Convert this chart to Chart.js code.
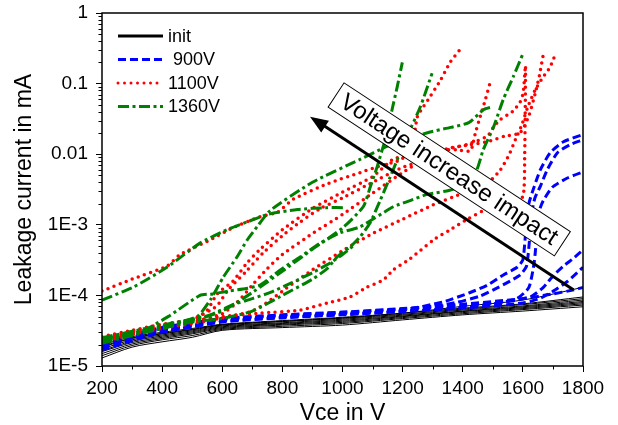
<!DOCTYPE html>
<html>
<head>
<meta charset="utf-8">
<script src="https://cdn.jsdelivr.net/npm/chart.js@4.4.1/dist/chart.umd.min.js"></script>
<style>
  html, body { margin: 0; padding: 0; background: #fff; }
</style>
</head>
<body>
<canvas id="leakChart" width="618" height="425"></canvas>
<script>
// Vce in V  /  leakage current in mA
var vceTicks = [200, 400, 600, 800, 1000, 1200, 1400, 1600, 1800];
var vceTickLabels = ['200', '400', '600', '800', '1000', '1200', '1400', '1600', '1800'];
var vceMinorTicks = [300, 500, 700, 900, 1100, 1300, 1500, 1700];
var leakTicks = [1e-5, 1e-4, 1e-3, 0.01, 0.1, 1];
var leakTickLabels = ['1E-5', '1E-4', '1E-3', '0.01', '0.1', '1'];
var leakMinorTicks = [2e-5, 3e-5, 4e-5, 5e-5, 6e-5, 7e-5, 8e-5, 9e-5,
  2e-4, 3e-4, 4e-4, 5e-4, 6e-4, 7e-4, 8e-4, 9e-4,
  2e-3, 3e-3, 4e-3, 5e-3, 6e-3, 7e-3, 8e-3, 9e-3,
  0.02, 0.03, 0.04, 0.05, 0.06, 0.07, 0.08, 0.09,
  0.2, 0.3, 0.4, 0.5, 0.6, 0.7, 0.8, 0.9];

var legendLabels = ['init', ' 900V', '1100V', '1360V'];

// init: the bundle of untreated devices
var initVce = [200, 300, 400, 500, 600, 800, 1000, 1200, 1400, 1600, 1800];
var initLeak = [
  [1.3e-5, 1.85e-5, 2.2e-5, 2.55e-5, 3.2e-5, 3.5e-5, 3.8e-5, 4.5e-5, 5.3e-5, 6.0e-5, 6.9e-5],
  [1.4e-5, 1.95e-5, 2.35e-5, 2.7e-5, 3.3e-5, 3.65e-5, 4.0e-5, 4.7e-5, 5.5e-5, 6.3e-5, 7.3e-5],
  [1.5e-5, 2.05e-5, 2.45e-5, 2.85e-5, 3.4e-5, 3.8e-5, 4.15e-5, 4.85e-5, 5.7e-5, 6.5e-5, 7.6e-5],
  [1.6e-5, 2.15e-5, 2.55e-5, 2.95e-5, 3.5e-5, 3.9e-5, 4.3e-5, 5.0e-5, 5.9e-5, 6.7e-5, 7.9e-5],
  [1.65e-5, 2.25e-5, 2.65e-5, 3.05e-5, 3.6e-5, 4.0e-5, 4.45e-5, 5.1e-5, 6.0e-5, 6.9e-5, 8.2e-5],
  [1.75e-5, 2.35e-5, 2.75e-5, 3.15e-5, 3.7e-5, 4.1e-5, 4.6e-5, 5.25e-5, 6.2e-5, 7.1e-5, 8.6e-5],
  [1.85e-5, 2.45e-5, 2.85e-5, 3.25e-5, 3.8e-5, 4.25e-5, 4.75e-5, 5.4e-5, 6.4e-5, 7.4e-5, 9.0e-5],
  [2.0e-5, 2.6e-5, 3.0e-5, 3.4e-5, 3.9e-5, 4.4e-5, 4.9e-5, 5.6e-5, 6.6e-5, 7.6e-5, 9.5e-5],
  [1.9e-5, 2.5e-5, 2.9e-5, 3.3e-5, 3.85e-5, 4.3e-5, 4.8e-5, 5.6e-5, 7.0e-5, 8.6e-5, 1.3e-4]
];

// after 900V stress
var blue900 = [
  [[200,1.9e-5],[300,2.6e-5],[400,3.2e-5],[500,3.7e-5],[600,4.4e-5],[800,5.0e-5],[1000,5.5e-5],[1200,6.2e-5],[1335,8.1e-5],[1425,1.1e-4],[1482,1.4e-4],[1535,1.95e-4],[1581,2.5e-4],[1600,3.2e-4],[1610,8.5e-4],[1620,2e-3],[1638,3.5e-3],[1658,6e-3],[1691,0.0105],[1735,0.015],[1800,0.019]],
  [[200,2.0e-5],[300,2.7e-5],[400,3.3e-5],[500,3.8e-5],[600,4.5e-5],[800,5.1e-5],[1000,5.6e-5],[1200,6.3e-5],[1300,7e-5],[1382,8e-5],[1458,9.8e-5],[1515,1.28e-4],[1558,1.6e-4],[1591,1.95e-4],[1612,2.6e-4],[1622,6e-4],[1630,1.5e-3],[1640,2.4e-3],[1658,3.5e-3],[1681,6e-3],[1715,0.0105],[1758,0.0137],[1800,0.016]],
  [[200,1.8e-5],[300,2.5e-5],[400,3.1e-5],[500,3.6e-5],[600,4.3e-5],[800,4.9e-5],[1000,5.4e-5],[1200,6.0e-5],[1400,6.8e-5],[1500,7.6e-5],[1580,9e-5],[1620,1.3e-4],[1638,3e-4],[1648,9e-4],[1655,1.6e-3],[1668,2.2e-3],[1698,3.4e-3],[1748,4.6e-3],[1800,5.6e-3]],
  [[200,2.1e-5],[400,3.4e-5],[600,4.6e-5],[800,5.2e-5],[1000,5.7e-5],[1200,6.4e-5],[1400,7.2e-5],[1550,8.2e-5],[1625,9.5e-5],[1668,1.3e-4],[1701,1.9e-4],[1735,2.6e-4],[1770,3.4e-4],[1800,4.4e-4]],
  [[200,1.7e-5],[400,3.0e-5],[600,4.2e-5],[800,4.8e-5],[1000,5.3e-5],[1200,5.9e-5],[1400,6.6e-5],[1600,7.8e-5],[1660,9.2e-5],[1701,1.15e-4],[1750,1.6e-4],[1800,2.5e-4]],
  [[200,2.2e-5],[400,3.5e-5],[600,4.7e-5],[800,5.3e-5],[1000,5.8e-5],[1200,6.5e-5],[1400,7.5e-5],[1600,9e-5],[1700,1.05e-4],[1770,1.2e-4],[1800,1.3e-4]]
];

// after 1100V stress
var red1100 = [
  [[200,1.15e-4],[300,1.7e-4],[416,2.6e-4],[460,3.8e-4],[550,5.8e-4],[636,9.1e-4],[726,1.3e-3],[783,1.5e-3],[836,2.3e-3],[949,3.8e-3],[1059,5.5e-3],[1115,6.6e-3],[1192,8.3e-3],[1230,0.012],[1249,0.034],[1269,0.047],[1292,0.066],[1325,0.11],[1358,0.2],[1398,0.33]],
  [[200,2.5e-5],[300,3.1e-5],[400,3.7e-5],[500,4.4e-5],[550,6.2e-5],[583,1.05e-4],[636,1.6e-4],[683,2.9e-4],[726,4.5e-4],[800,8.5e-4],[900,1.7e-3],[1000,2.9e-3],[1100,4.8e-3],[1169,8.5e-3],[1250,0.0105],[1320,0.0115],[1380,0.0115],[1425,0.011],[1432,0.013],[1442,0.02],[1458,0.034],[1475,0.059],[1492,0.107]],
  [[200,2.3e-5],[300,2.9e-5],[400,3.5e-5],[500,4.2e-5],[600,5.5e-5],[650,8e-5],[700,1.4e-4],[750,2.4e-4],[800,3.8e-4],[900,7.5e-4],[1000,1.4e-3],[1100,2.8e-3],[1200,5.5e-3],[1280,9e-3],[1350,0.012],[1420,0.0135],[1480,0.015],[1540,0.018],[1590,0.02],[1620,0.035],[1640,0.07],[1655,0.13],[1668,0.26]],
  [[200,2.2e-5],[300,2.8e-5],[400,3.4e-5],[500,4e-5],[600,4.8e-5],[700,6e-5],[750,8e-5],[800,1.15e-4],[900,2.3e-4],[1000,4.3e-4],[1100,7.5e-4],[1200,1.2e-3],[1300,1.9e-3],[1400,2.8e-3],[1480,3.8e-3],[1525,6e-3],[1555,0.01],[1575,0.016],[1595,0.025],[1615,0.045],[1640,0.08],[1665,0.12],[1690,0.17],[1708,0.26]],
  [[200,2.4e-5],[300,3.0e-5],[400,3.6e-5],[500,4.3e-5],[600,5.0e-5],[726,5.6e-5],[859,6.2e-5],[949,7.8e-5],[1025,9.5e-5],[1080,1.3e-4],[1135,1.65e-4],[1169,2.3e-4],[1225,3.3e-4],[1302,6.1e-4],[1358,8.5e-4],[1415,1.2e-3],[1468,1.6e-3],[1502,2.2e-3],[1560,2.4e-3],[1600,2.5e-3],[1606,0.01],[1608,0.05],[1609,0.17]],
  [[200,2.6e-5],[300,3.2e-5],[400,3.9e-5],[500,4.6e-5],[580,7e-5],[620,1.2e-4],[680,2.2e-4],[736,4e-4],[800,7e-4],[860,1.1e-3],[926,1.7e-3],[1000,2.4e-3],[1100,4e-3],[1200,6.5e-3],[1300,9e-3],[1360,0.012],[1420,0.014],[1482,0.018],[1502,0.024],[1525,0.031],[1565,0.04],[1591,0.055],[1601,0.074],[1608,0.17]]
];

// after 1360V stress
var green1360 = [
  [[200,8.6e-5],[303,1.3e-4],[416,2.5e-4],[526,5.5e-4],[616,8.5e-4],[683,1.1e-3],[750,1.4e-3],[850,1.65e-3],[950,1.75e-3],[1010,1.75e-3]],
  [[200,2.2e-5],[300,2.9e-5],[400,3.6e-5],[516,5e-5],[560,8.6e-5],[603,1.8e-4],[649,3.5e-4],[683,6.1e-4],[716,9.4e-4],[760,1.6e-3],[900,4e-3],[1060,8.5e-3],[1150,0.013],[1280,0.02],[1360,0.024],[1420,0.028],[1470,0.043],[1500,0.047]],
  [[200,2.3e-5],[300,2.9e-5],[400,3.7e-5],[500,4.4e-5],[600,6e-5],[700,1.1e-4],[800,2.2e-4],[900,4.5e-4],[1000,9e-4],[1069,1.8e-3],[1092,3.4e-3],[1115,6.6e-3],[1132,0.0115],[1149,0.02],[1165,0.043],[1182,0.09],[1199,0.2]],
  [[200,2.4e-5],[260,2.7e-5],[326,3e-5],[420,5e-5],[526,1e-4],[570,1.05e-4],[620,1.15e-4],[680,1.25e-4],[726,1.4e-4],[793,2.3e-4],[859,3.5e-4],[926,5.5e-4],[992,7.7e-4],[1059,9.4e-4],[1169,1.8e-3],[1225,2.2e-3],[1282,2.7e-3],[1369,3.2e-3],[1442,5.5e-3],[1468,0.0115],[1502,0.024],[1535,0.06],[1568,0.125],[1601,0.27]],
  [[200,2.1e-5],[300,2.7e-5],[400,3.4e-5],[500,4.2e-5],[600,4.7e-5],[700,6e-5],[800,1e-4],[900,1.7e-4],[949,2.4e-4],[982,3.5e-4],[1026,4.9e-4],[1059,6.8e-4],[1092,1.07e-3],[1125,2.2e-3],[1159,4.8e-3],[1182,8.3e-3],[1215,0.018],[1259,0.047],[1298,0.14]],
  [[200,2.5e-5],[300,3.1e-5],[400,3.8e-5],[500,4.6e-5],[560,5.3e-5],[640,7.5e-5],[700,9e-5],[760,1.1e-4],[830,1.5e-4],[900,2.1e-4],[960,2.9e-4],[1000,3.8e-4],[1040,5.2e-4]]
];

// annotation anchors, in data units
var arrowTail = [1768, 1.2e-4];
var arrowTip = [892, 0.034];
var boxCentre = [1355, 6.1e-3];
var boxText = 'Voltage increase impact';

var FONT = 'Liberation Sans';
var groupStyles = [
  { color: '#000000', width: 1, dash: [], cap: 'butt' },
  { color: '#0000ff', width: 3, dash: [8, 4], cap: 'butt' },
  { color: '#ff0000', width: 3.5, dash: [0, 6.5], cap: 'round' },
  { color: '#008000', width: 3, dash: [11, 3.5, 3, 3.5], cap: 'butt' }
];

function makeSet(points, g, tension) {
  var st = groupStyles[g];
  return {
    data: points,
    borderColor: st.color,
    borderWidth: st.width,
    borderDash: st.dash,
    borderCapStyle: st.cap,
    pointRadius: 0,
    tension: tension,
    fill: false,
    order: 4 - g
  };
}

var datasets = [];
initLeak.forEach(function (row) {
  datasets.push(makeSet(row.map(function (v, i) { return [initVce[i], v]; }), 0, 0.3));
});
blue900.forEach(function (c) { datasets.push(makeSet(c, 1, 0.2)); });
red1100.forEach(function (c) { datasets.push(makeSet(c, 2, 0.2)); });
green1360.forEach(function (c) { datasets.push(makeSet(c, 3, 0.2)); });

var framePlugin = {
  id: 'frame',
  afterDraw: function (chart) {
    var ctx = chart.ctx, a = chart.chartArea;
    var xs = chart.scales.x, ys = chart.scales.y;
    ctx.save();
    ctx.strokeStyle = '#000';
    ctx.lineWidth = 1.5;
    ctx.strokeRect(a.left, a.top, a.right - a.left, a.bottom - a.top);
    ctx.lineWidth = 1;
    ctx.beginPath();
    vceMinorTicks.forEach(function (v) {
      var x = Math.round(xs.getPixelForValue(v)) + 0.5;
      ctx.moveTo(x, a.bottom); ctx.lineTo(x, a.bottom + 3.5);
    });
    leakMinorTicks.forEach(function (v) {
      var y = Math.round(ys.getPixelForValue(v)) + 0.5;
      ctx.moveTo(a.left, y); ctx.lineTo(a.left - 3.5, y);
    });
    ctx.stroke();

    // legend in the upper left corner of the plot
    ctx.font = '18px "' + FONT + '"';
    ctx.textBaseline = 'middle';
    legendLabels.forEach(function (label, i) {
      var st = groupStyles[i];
      var y = a.top + 23 + i * 23.5;
      ctx.beginPath();
      ctx.strokeStyle = st.color;
      ctx.lineWidth = 3;
      ctx.lineCap = st.cap;
      ctx.setLineDash(st.dash);
      ctx.moveTo(a.left + 16, y);
      ctx.lineTo(a.left + 61, y);
      ctx.stroke();
      ctx.setLineDash([]);
      ctx.fillStyle = '#000';
      ctx.fillText(label, a.left + 66, y + 1);
    });
    ctx.restore();
  }
};

var arrowPlugin = {
  id: 'impactArrow',
  afterDatasetsDraw: function (chart) {
    var ctx = chart.ctx, xs = chart.scales.x, ys = chart.scales.y;
    var x0 = xs.getPixelForValue(arrowTail[0]), y0 = ys.getPixelForValue(arrowTail[1]);
    var x1 = xs.getPixelForValue(arrowTip[0]), y1 = ys.getPixelForValue(arrowTip[1]);
    var ang = Math.atan2(y1 - y0, x1 - x0);
    var c = Math.cos(ang), s = Math.sin(ang);
    ctx.save();
    ctx.strokeStyle = '#000';
    ctx.fillStyle = '#000';
    ctx.lineWidth = 3;
    ctx.beginPath();
    ctx.moveTo(x0, y0);
    ctx.lineTo(x1 - 14 * c, y1 - 14 * s);
    ctx.stroke();
    ctx.beginPath();
    ctx.moveTo(x1, y1);
    ctx.lineTo(x1 - 18 * c + 7 * s, y1 - 18 * s - 7 * c);
    ctx.lineTo(x1 - 18 * c - 7 * s, y1 - 18 * s + 7 * c);
    ctx.closePath();
    ctx.fill();

    // white label box, parallel to the arrow
    var cx = xs.getPixelForValue(boxCentre[0]), cy = ys.getPixelForValue(boxCentre[1]);
    ctx.translate(cx, cy);
    ctx.rotate(Math.atan2(y0 - y1, x0 - x1));
    ctx.font = '24px "' + FONT + '"';
    var w = ctx.measureText(boxText).width + 16, h = 29;
    ctx.fillStyle = '#fff';
    ctx.fillRect(-w / 2, -h / 2, w, h);
    ctx.lineWidth = 1;
    ctx.strokeRect(-w / 2, -h / 2, w, h);
    ctx.fillStyle = '#000';
    ctx.textAlign = 'center';
    ctx.textBaseline = 'middle';
    ctx.fillText(boxText, 0, 1);
    ctx.restore();
  }
};

var tickFont = { family: FONT, size: 19 };

new Chart(document.getElementById('leakChart').getContext('2d'), {
  type: 'line',
  data: { datasets: datasets },
  plugins: [arrowPlugin, framePlugin],
  options: {
    responsive: false,
    animation: false,
    devicePixelRatio: 1,
    layout: { padding: { left: 0, top: 13, right: 35, bottom: 0 } },
    plugins: { legend: { display: false }, tooltip: { enabled: false } },
    scales: {
      x: {
        type: 'linear', min: 200, max: 1800,
        afterBuildTicks: function (s) { s.ticks = vceTicks.map(function (v) { return { value: v }; }); },
        afterFit: function (s) { s.height = 59; s.paddingLeft = 0; s.paddingRight = 0; },
        border: { display: false },
        grid: { drawOnChartArea: false, drawTicks: true, tickLength: 6, color: '#000', lineWidth: 1 },
        ticks: { autoSkip: false, maxRotation: 0, padding: 5, color: '#000', font: tickFont,
          callback: function (v, i) { return vceTickLabels[i]; } },
        title: { display: true, text: 'Vce in V', color: '#000', padding: 0,
          font: { family: FONT, size: 23, lineHeight: 1 } }
      },
      y: {
        type: 'logarithmic', min: 1e-5, max: 1,
        afterBuildTicks: function (s) { s.ticks = leakTicks.map(function (v) { return { value: v }; }); },
        afterFit: function (s) { s.width = 102; s.paddingTop = 0; s.paddingBottom = 0; },
        border: { display: false },
        grid: { drawOnChartArea: false, drawTicks: true, tickLength: 6, color: '#000', lineWidth: 1 },
        ticks: { autoSkip: false, padding: 8, color: '#000', font: tickFont,
          callback: function (v, i) { return leakTickLabels[i]; } },
        title: { display: true, text: 'Leakage current in mA', color: '#000', padding: { top: 11, bottom: 0 },
          font: { family: FONT, size: 23 } }
      }
    }
  }
});
</script>
</body>
</html>
